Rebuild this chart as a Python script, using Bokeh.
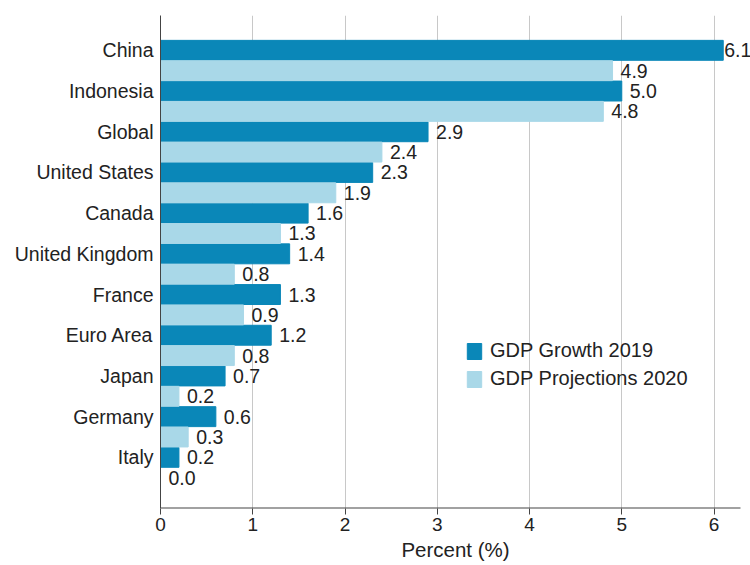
from bokeh.plotting import figure
from bokeh.models import Range1d, ColumnDataSource, Legend, LegendItem, FixedTicker, LabelSet
from bokeh.core.properties import value
from bokeh.embed import file_html
from bokeh.resources import INLINE

categories = ["China", "Indonesia", "Global", "United States", "Canada",
              "United Kingdom", "France", "Euro Area", "Japan", "Germany", "Italy"]
growth_2019 = [6.1, 5.0, 2.9, 2.3, 1.6, 1.4, 1.3, 1.2, 0.7, 0.6, 0.2]
proj_2020 = [4.9, 4.8, 2.4, 1.9, 1.3, 0.8, 0.9, 0.8, 0.2, 0.3, 0.0]
x_ticks = [0, 1, 2, 3, 4, 5, 6]

FONT = "Liberation Sans"
DARK = "#0a87b8"
LIGHT = "#a9d8e8"
TXT = "#222222"
AXIS_END = 6.287
Y_BOTTOM = 11.007

idx = list(range(len(categories)))
y19 = [i - 0.25 for i in idx]
y20 = [i + 0.25 for i in idx]

def offs(vals):
    return [1 if v >= 6 else 8 for v in vals]

src19 = ColumnDataSource(dict(y=y19, v=growth_2019, lab=[f"{v:.1f}" for v in growth_2019], off=offs(growth_2019)))
src20 = ColumnDataSource(dict(y=y20, v=proj_2020, lab=[f"{v:.1f}" for v in proj_2020], off=offs(proj_2020)))

p = figure(width=750, height=563, output_backend="svg", toolbar_location=None,
           x_range=Range1d(0, AXIS_END + 10 / 92.25), y_range=Range1d(Y_BOTTOM, -1.106),
           min_border_left=160, min_border_right=0, min_border_top=15, min_border_bottom=55)
p.outline_line_color = None
p.background_fill_color = "white"
p.border_fill_color = "white"

r19 = p.hbar(y="y", right="v", left=0, height=0.49, color=DARK, source=src19)
r20 = p.hbar(y="y", right="v", left=0, height=0.49, color=LIGHT, source=src20)

for s in (src19, src20):
    ls = LabelSet(x="v", y="y", text="lab", source=s, x_offset="off", text_baseline="middle",
                  text_align="left", text_font=value(FONT), text_font_size="19.5px", text_color=TXT)
    p.add_layout(ls)

# bottom axis line drawn only up to the axis end
p.segment(x0=[0], y0=[Y_BOTTOM], x1=[AXIS_END], y1=[Y_BOTTOM], line_color="#444444", line_width=2)

# axes
p.xaxis.ticker = FixedTicker(ticks=x_ticks)
p.xaxis.axis_label = "Percent (%)"
p.xaxis.axis_label_text_font = FONT
p.xaxis.axis_label_text_font_style = "normal"
p.xaxis.axis_label_text_font_size = "20.5px"
p.xaxis.axis_label_text_color = TXT
p.xaxis.axis_label_standoff = 4
p.xaxis.major_label_text_font = FONT
p.xaxis.major_label_text_font_size = "19px"
p.xaxis.major_label_text_color = TXT
p.xaxis.major_tick_out = 6
p.xaxis.major_tick_in = 0
p.xaxis.minor_tick_line_color = None
p.xaxis.axis_line_color = None
p.xaxis.major_tick_line_color = "#444444"
p.xaxis.major_label_standoff = 3

p.yaxis.ticker = FixedTicker(ticks=y19)
p.yaxis.major_label_overrides = {y: c for y, c in zip(y19, categories)}
p.yaxis.major_label_text_font = FONT
p.yaxis.major_label_text_font_size = "19.5px"
p.yaxis.major_label_text_color = TXT
p.yaxis.major_tick_line_color = None
p.yaxis.major_tick_out = 0
p.yaxis.major_tick_in = 0
p.yaxis.minor_tick_line_color = None
p.yaxis.axis_line_color = "#444444"
p.yaxis.major_label_standoff = 7

p.ygrid.grid_line_color = None
p.xgrid.grid_line_color = "#c8c8c8"
p.xgrid.ticker = FixedTicker(ticks=x_ticks)

legend = Legend(items=[LegendItem(label="GDP Growth 2019", renderers=[r19]),
                       LegendItem(label="GDP Projections 2020", renderers=[r20])],
                location=(305, 118), orientation="vertical")
legend.background_fill_alpha = 0
legend.border_line_color = None
legend.padding = 0
legend.margin = 0
legend.spacing = 5
legend.glyph_height = 20
legend.glyph_width = 18
legend.label_height = 20
legend.label_standoff = 7
legend.label_text_font = FONT
legend.label_text_font_size = "20px"
legend.label_text_color = TXT
p.add_layout(legend, "center")

open("out.html", "w").write(file_html(p, INLINE))
